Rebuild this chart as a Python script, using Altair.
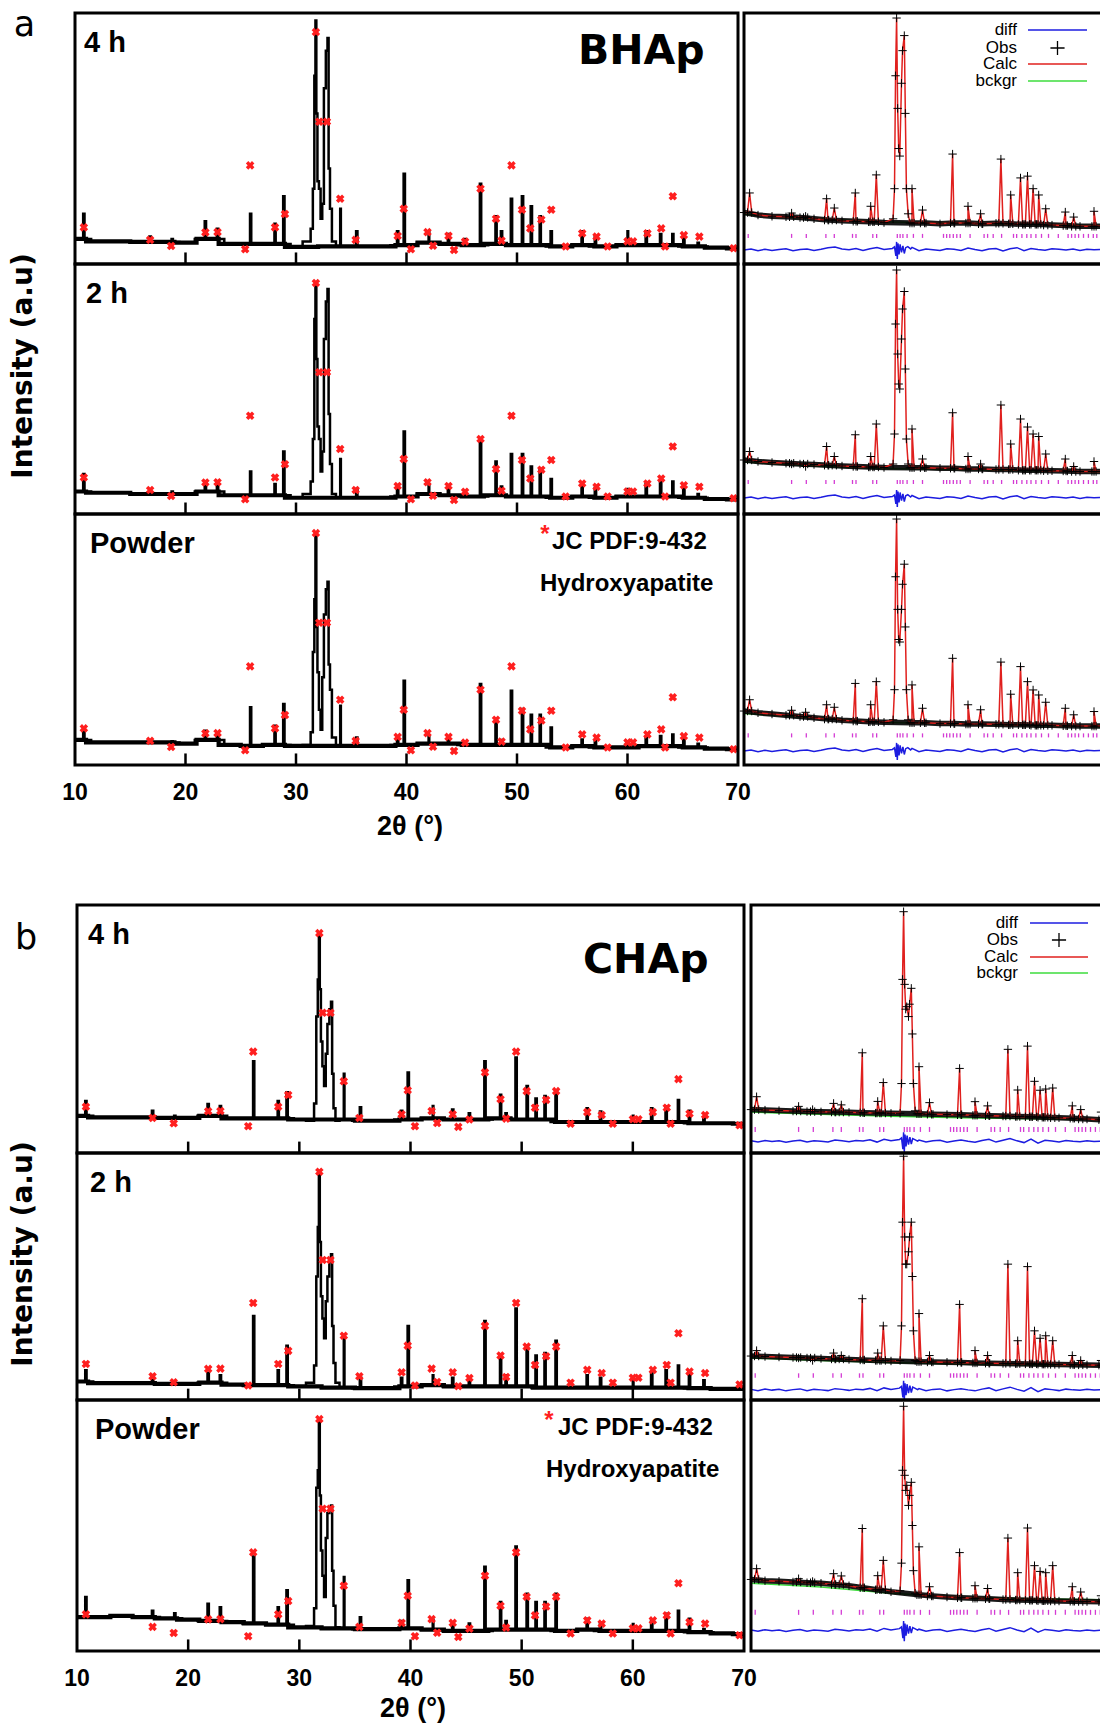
import altair as alt
import pandas as pd

# XRD patterns of BHAp (a) and CHAp (b): measured profiles on the left,
# Rietveld refinement plots on the right. Intensities are arbitrary units
# scaled 0-100 over the height of each sub-plot.

TICK_VALUES = [10, 20, 30, 40, 50, 60, 70]
INNER_TICKS = [20, 30, 40, 50, 60]
ROW_LABELS = ["4 h", "2 h", "Powder"]
LEGEND_NAMES = ["diff", "Obs", "Calc", "bckgr"]

# ---------------- measured patterns (left) ----------------
LEFT_BASE_X = list(range(10, 71, 2))
LEFT_PEAKS = [10.8, 16.8, 18.8, 21.8, 22.9, 25.9, 28.1, 28.9, 34.0, 35.5, 39.2,
              39.8, 42.0, 43.8, 45.3, 46.7, 48.1, 48.6, 49.5, 50.5, 51.3, 52.1,
              53.1, 55.9, 57.1, 60.0, 61.7, 63.0, 64.1, 65.1, 66.4]
LEFT_CL_X = [31.2, 31.45, 31.6, 31.72, 31.8, 31.88, 32.0, 32.15, 32.3, 32.45,
             32.6, 32.8, 32.9, 33.0, 33.15, 33.35]

A4_BASE = [10, 9, 9, 8.8, 8.8, 8.5, 10, 8, 8, 8, 6.8, 7, 7, 7, 7, 7.5, 8.5, 8,
           7.5, 8, 7.5, 7.5, 7, 7.5, 7, 7.5, 7.5, 7.5, 7, 6.5, 6.2]
A4_TIPS = [20, 11, 10, 17, 14, 20, 16, 27, 22, 13, 13, 36, 13, 12, 10, 32, 19, 13,
           26, 27, 23, 19, 13, 13, 11, 13, 13, 12, 12, 11, 8.5]
A4_CL = [9, 14, 30, 75, 97, 60, 33, 30, 18, 24, 70, 85, 90, 38, 22, 9]

A2_BASE = [9, 8.5, 8.5, 8, 8, 8, 9, 7.5, 7.5, 7.5, 6.5, 6.5, 6.5, 6.5, 6.5, 7, 8,
           7.5, 7, 7.5, 7, 7, 6.5, 7, 6.5, 7, 7, 7, 6.5, 6, 5.8]
A2_TIPS = [16, 9.5, 9, 13, 12, 17, 12, 25, 22, 10, 11, 33, 12, 10, 9, 30, 21, 11,
           24, 24, 19, 18, 14, 12, 10.5, 10, 12, 13, 13, 11, 8]
A2_CL = [8, 13, 30, 78, 92, 62, 35, 30, 17, 25, 70, 85, 90, 40, 20, 8]

AP_BASE = [10, 9, 9, 9, 9, 8.5, 10, 8, 7.6, 8, 7.6, 7.6, 7.6, 7.6, 7.6, 8, 8.5,
           8.5, 8, 8, 8, 8, 7, 7.5, 7, 7, 7.5, 7.5, 7, 6.5, 6.3]
AP_TIPS = [14.3, 10, 9.5, 13.6, 13, 23, 15.6, 24.3, 23.6, 11, 11, 33.6, 11.6, 10,
           9, 32.3, 18.3, 10, 29.6, 22.3, 20, 20, 14.9, 10.2, 9.6, 9, 11, 11.6,
           12.2, 11, 8.5]
AP_CL = [8, 13, 45, 66, 92, 55, 37, 22, 14, 35, 60, 70, 73, 40, 30, 11]

B4_BASE = [15, 14.4, 14.4, 14.4, 14.2, 14.2, 15, 14, 14, 14, 13.5, 13.5, 13.5, 13,
           13, 13.5, 14, 13.5, 13.5, 14, 13.5, 13.5, 12.5, 12.5, 12.5, 12.5, 12.5,
           12.5, 12, 12, 11.8]
B4_TIPS = [21, 17, 15, 19.8, 19, 37, 21, 24.5, 32, 18.4, 17, 32.5, 19, 17.5, 16,
           37, 23.5, 16, 38.5, 27, 22, 23, 24.7, 18, 16.7, 15, 18, 18.7, 21.4, 17, 14]
B4_CL = [13, 20, 55, 70, 88, 66, 45, 35, 27, 40, 52, 58, 61, 32, 18, 13]

B2_BASE = [7.5, 6.8, 6.8, 6.8, 6.5, 6.5, 7, 6.2, 6, 6, 5.5, 5, 5, 4.8, 4.8, 5.5,
           6, 5.5, 5.5, 5.5, 5.5, 5, 5, 5, 5, 5, 5, 5, 4.8, 4.5, 4.5]
B2_TIPS = [12, 8, 7, 11, 10, 34, 12, 22, 25, 9, 9, 30, 10, 9, 8, 32, 17, 10, 37, 22,
           18, 19, 24, 10, 9, 8, 11, 12, 14, 10, 8]
B2_CL = [7, 14, 50, 70, 92, 64, 42, 33, 25, 40, 50, 56, 59, 30, 15, 7]

BP_BASE = [13.5, 13.5, 14, 13.5, 13, 12.5, 12, 11.5, 11, 10.5, 9.4, 9, 9, 8.7,
           8.7, 9, 8.5, 8, 8, 8.5, 8.5, 8.5, 8, 8.5, 8, 8, 8, 8, 7.5, 7, 6.7]
BP_TIPS = [21.5, 16, 15, 18.8, 17.4, 37.6, 17.4, 24.2, 29.5, 13.4, 12, 28.2, 12.5,
           11.5, 11, 33.6, 19.5, 12, 41.6, 22.8, 19.5, 19.5, 22.8, 12.8, 11.4, 10.8,
           12, 14.8, 16, 12.8, 8.8]
BP_CL = [10, 17, 65, 72, 92, 62, 40, 30, 21.5, 45, 55, 57, 58, 32, 18, 9.5]

# JCPDS 9-432 hydroxyapatite reference lines (red markers)
REF_POS = [10.8, 16.8, 18.7, 21.8, 22.9, 25.4, 25.85, 28.1, 29.0, 31.8, 32.1, 32.8,
           34.0, 35.4, 39.2, 39.75, 40.4, 41.9, 42.4, 43.8, 44.3, 45.3, 46.7, 48.1,
           48.6, 49.5, 50.45, 51.2, 52.2, 53.1, 54.4, 55.9, 57.2, 58.2, 60.0, 60.5,
           61.8, 63.05, 63.4, 64.1, 65.1, 66.5, 69.6]
REF_REL = [14.6, 9.6, 7.2, 12.6, 12.7, 5.9, 39.3, 14.6, 19.9, 92.4, 56.7, 56.7, 26,
           9.6, 11.2, 22, 5.9, 12.7, 7.3, 11.2, 5.6, 8.9, 30, 18, 9.3, 39.3, 21.6,
           14.2, 17.7, 21.6, 7, 12.2, 10.9, 7, 9, 9, 12.2, 14.2, 7, 27, 11.5, 10.9, 6.3]

# ---------------- Rietveld plots (right) ----------------
RIGHT_BASE_X = list(range(10, 63, 2))
RIGHT_PEAKS = [10.8, 16.8, 18.8, 21.8, 22.9, 25.9, 28.1, 28.9, 34.0, 35.5, 39.8,
               42.0, 43.8, 46.7, 48.1, 49.5, 50.5, 51.3, 52.1, 53.1, 55.9, 57.1, 60.0]
RIGHT_CL_X = [31.3, 31.5, 31.65, 31.8, 31.95, 32.1, 32.25, 32.5, 32.65, 32.9,
              33.05, 33.2, 33.45]
BG_X = [10, 20, 30, 40, 50, 62]
HKL_POS = [10.6, 16.8, 18.9, 21.7, 22.9, 25.5, 26.0, 28.4, 28.95, 31.9, 32.3, 32.7,
           33.3, 34.2, 35.5, 38.5, 38.95, 39.4, 39.9, 40.4, 40.9, 42.3, 44.3, 44.8,
           45.6, 46.8, 48.5, 48.95, 49.7, 50.4, 51.0, 51.7, 52.5, 53.5, 54.9, 56.3,
           56.8, 57.3, 57.8, 58.5, 59.2, 59.9, 60.4]
DIFF_X = (list(range(10, 31))
          + [31.2, 31.5, 31.7, 31.8, 31.9, 32.0, 32.15, 32.3, 32.5, 32.7, 32.9, 33.1, 33.4, 33.8]
          + list(range(34, 62)))
DIFF_A = [0.0, 0.4, -0.3, 0.3, -0.2, 0.2, 0.5, -0.3, 0.2, 0.4, -0.2, 0.3, 0.9, 1.2,
          0.4, 0.1, 0.6, -0.2, 0.5, 1.0, 0.2,
          0.6, 1.2, -2.4, 3.2, -3.6, 2.6, -1.8, 2.2, -1.0, 1.6, -1.4, 0.9, 1.3, 0.4,
          1.0, -0.3, 0.4, 0.1, -0.2, 0.5, 0.3, -0.2, 0.8, 0.2, -0.3, 0.4, 0.6, -0.4,
          0.5, 0.9, -0.3, 0.6, 0.2, -0.1, 0.5, 0.3, 0.0, 0.4, -0.2, 0.3, 0.1, 0.2]
DIFF_B = [0.3, -0.2, 0.4, 0.0, 0.3, -0.3, 0.2, 0.5, -0.2, 0.3, 0.1, -0.2, 0.6, 0.3,
          -0.1, 0.4, 0.2, 0.7, -0.2, 0.9, 0.3,
          0.8, 1.5, -3.0, 3.8, -4.2, 2.8, -2.0, 2.4, -1.2, 1.8, -1.0, 1.2, 0.8, 0.2,
          0.6, -0.2, 0.3, 0.5, -0.3, 0.2, 0.6, 0.1, -0.3, 0.4, 0.9, -0.2, 0.5, 1.2,
          0.3, -0.4, 1.0, -0.6, 0.5, 0.2, -0.2, 0.4, 0.1, -0.1, 0.3, 0.0, 0.2, 0.1]

RA4_BASE = [20.5, 19.5, 19, 18.8, 18.5, 18, 17.5, 17.2, 17, 16.8, 16.5, 16.5, 16.3,
            16.3, 16, 16.3, 16.3, 16, 16.2, 16, 15.8, 15.8, 15.5, 15.3, 15, 15, 15]
RA4_TIPS = [28.3, 20.3, 19, 26, 22.3, 28.3, 23, 35.5, 30, 21.5, 43.8, 23, 20, 41.8,
            27.5, 34.3, 35, 30, 27.5, 22, 20.7, 18.7, 21]
RA4_CL = [18, 30, 75, 98, 62, 46, 43, 72, 85, 91, 60, 30, 20]
RA4_BG = [19.8, 18, 16.8, 16.3, 15.8, 15.2]

RA2_BASE = [21.6, 21, 20.6, 20.3, 20, 19.8, 19.5, 19.2, 19, 18.8, 18.6, 18.5, 18.5,
            18.5, 18.3, 18.3, 18, 18, 17.8, 17.8, 17.5, 17.5, 17.3, 17.2, 17, 17, 17]
RA2_TIPS = [25, 20, 19, 27, 23, 31.7, 23, 36, 34, 22, 40.5, 23, 20, 43.6, 28, 38,
            34.8, 32, 31, 24, 22, 19, 21]
RA2_CL = [20, 32, 76, 97.6, 64, 52, 50, 70, 82, 89, 58, 30, 20]
RA2_BG = [20.8, 19.2, 18.2, 17.8, 17.3, 16.8]

RAP_BASE = [21.5, 20.8, 20.3, 19.8, 19.3, 18.8, 18.3, 17.8, 17.5, 17.2, 17, 17, 16.8,
            16.8, 16.5, 16.5, 16.3, 16.3, 16.2, 16, 16, 15.8, 15.8, 15.6, 15.5, 15.5, 15.5]
RAP_TIPS = [26, 21.8, 21, 24, 23, 32.5, 24, 33.2, 31.9, 22.6, 42.5, 24, 22, 41, 28.2,
            39.2, 33.2, 29.9, 27.9, 25, 22.6, 20, 21.3]
RAP_CL = [18, 30, 75, 98, 62, 50, 49, 62, 72, 80, 55, 30, 18]
RAP_BG = [20.5, 18.8, 17, 16.3, 15.8, 15.2]

RB4_BASE = [17.5, 17.3, 17.1, 16.9, 16.7, 16.6, 16.5, 16.4, 16.2, 16.1, 16, 15.9,
            15.8, 15.6, 15.5, 15.4, 15.2, 15, 14.9, 14.7, 14.6, 14.4, 14.2, 14, 13.7,
            13.4, 13.3]
RB4_TIPS = [22.7, 18.8, 17.5, 20, 19.4, 40.4, 20.8, 28.4, 34.8, 20.3, 34.1, 20.7, 19,
            41.8, 25.4, 43.1, 28.9, 25.3, 25.8, 26.2, 19, 17.5, 16.5]
RB4_CL = [16, 28, 70, 97.3, 68, 58, 59, 55, 60, 66.4, 48, 28, 17]
RB4_BG = [16.5, 15.6, 14.8, 14.2, 13.8, 13.3]

RB2_BASE = [17.8, 17.6, 17.4, 17.2, 17, 16.8, 16.6, 16.4, 16.2, 16, 15.8, 15.7, 15.5,
            15.4, 15.3, 15.2, 15, 14.9, 14.8, 14.7, 14.6, 14.5, 14.4, 14.3, 14.2, 14.1, 14]
RB2_TIPS = [20, 17, 16, 19, 18, 41, 19, 30, 35, 18, 38.7, 20, 18, 55, 24, 54, 28, 25,
            26, 24, 18, 16, 16]
RB2_CL = [16, 30, 72, 98.7, 66, 55, 55, 60, 66, 72, 50, 28, 16]
RB2_BG = [17, 16, 15.2, 14.6, 14.2, 13.8]

RBP_BASE = [28.5, 28, 27.8, 27.5, 27.2, 27, 26.5, 26, 25.2, 24.4, 23.6, 23, 22.4,
            21.9, 21.5, 21.2, 21, 20.8, 20.5, 20.3, 20.2, 20, 19.9, 19.8, 19.7, 19.6, 19.5]
RBP_TIPS = [32.8, 28.8, 27.7, 30.8, 29.9, 48.8, 30, 36.1, 41.5, 25.6, 39.2, 26, 24.9,
            45, 31.2, 49, 34, 31.7, 31.2, 34, 25.6, 23.5, 22]
RBP_CL = [24, 35, 72, 97.5, 70, 64, 66, 58, 62, 67.2, 50, 32, 23]
RBP_BG = [27, 25.5, 23, 21.3, 20.8, 20.3]

# ---------------- layout (pixels) ----------------
A_LEFT_X = (75, 738)
B_LEFT_X = (77, 744)
A_RIGHT_X0 = 744
B_RIGHT_X0 = 751
DEG_PX = 7
A_ROWS = [(13, 264), (264, 514), (514, 765)]
B_ROWS = [(905, 1153), (1153, 1400), (1400, 1651)]

SANS = "Liberation Sans"
WIDE = "DejaVu Sans"
RED = "#ff1f1f"
ONE = pd.DataFrame({"k": [0]})


def xscale(lo, hi, p0, p1):
    return alt.Scale(domain=[lo, hi], range=[p0, p1], nice=False, zero=False)


def yscale(top, bottom):
    return alt.Scale(domain=[0, 100], range=[bottom, top], nice=False, zero=False)


def profile(base_x, base_y, peaks, tips, cl_x, cl_y, hw):
    """Polyline through the baseline points, each peak (foot, top, foot) and
    the 31-33 degree reflection cluster."""
    lo, hi = cl_x[0], cl_x[-1]
    pts = [(x, y) for x, y in zip(base_x, base_y) if not lo <= x <= hi]
    for p, t in zip(peaks, tips):
        j = min(range(len(base_x)), key=lambda k: abs(base_x[k] - p))
        b = base_y[j]
        pts += [(p - hw, b), (p, t), (p + hw, b)]
    pts += list(zip(cl_x, cl_y))
    pts.sort(key=lambda q: q[0])
    df = pd.DataFrame(pts, columns=["t", "i"])
    df["k"] = range(len(df))
    return df


def left_panel(xpx, row, base, tips, cl_y, labels=False, ref_lift=0.0, ref_gain=1.0):
    top, bot = row
    xs = xscale(10, 70, *xpx)
    ys = yscale(top, bot)

    def X(f):
        return alt.X(f, type="quantitative", scale=xs, axis=None)

    def Y(f):
        return alt.Y(f, type="quantitative", scale=ys, axis=None)

    prof = profile(LEFT_BASE_X, base, LEFT_PEAKS, tips, LEFT_CL_X, cl_y, 0.12)
    lo, hi = LEFT_CL_X[0], LEFT_CL_X[-1]
    band = pd.DataFrame([(x, y) for x, y in zip(LEFT_BASE_X, base) if not lo <= x <= hi],
                        columns=["t", "i"])
    noise_band = alt.Chart(band).mark_line(interpolate="step", color="black",
                                           strokeWidth=4.2).encode(x=X("t"), y=Y("i"))
    line = alt.Chart(prof).mark_line(interpolate="step", color="black",
                                     strokeWidth=2.5).encode(
        x=X("t"), y=Y("i"), order=alt.Order("k:Q"))
    ref = alt.Chart(pd.DataFrame({"t": REF_POS,
                                  "i": [ref_lift + ref_gain * v for v in REF_REL]})).mark_point(
        shape="cross", angle=45, filled=True, size=75, color=RED, opacity=1).encode(
        x=X("t"), y=Y("i"))
    ticks = alt.Chart(pd.DataFrame({"t": INNER_TICKS, "i0": 0, "i1": 4.6})).mark_rule(
        color="black", strokeWidth=2.5).encode(x=X("t"), y=Y("i0"), y2="i1")
    frame = alt.Chart(pd.DataFrame({"t0": [10], "t1": [70], "i0": [0], "i1": [100]})).mark_rect(
        fillOpacity=0, stroke="black", strokeWidth=3).encode(
        x=X("t0"), x2="t1", y=Y("i0"), y2="i1")
    layers = [noise_band, line, ref, ticks, frame]
    if labels:
        lab = pd.DataFrame({"t": TICK_VALUES, "s": [str(v) for v in TICK_VALUES]})
        layers.append(alt.Chart(lab).mark_text(
            font=SANS, fontSize=23, fontWeight="bold", baseline="alphabetic",
            color="black").encode(x=X("t"), y=alt.value(bot + 35), text="s:N"))
    return alt.layer(*layers)


def right_panel(x0, row, base, tips, cl_y, bg, diff_y, diff_level, tick_lo, tick_hi):
    top, bot = row
    xs = xscale(10, 62, x0, x0 + 52 * DEG_PX)
    ys = yscale(top, bot)

    def X(f):
        return alt.X(f, type="quantitative", scale=xs, axis=None)

    def Y(f):
        return alt.Y(f, type="quantitative", scale=ys, axis=None)

    prof = profile(RIGHT_BASE_X, base, RIGHT_PEAKS, tips, RIGHT_CL_X, cl_y, 0.3)
    lo, hi = RIGHT_CL_X[0], RIGHT_CL_X[-1]
    band = pd.DataFrame([(x, y) for x, y in zip(RIGHT_BASE_X, base) if not lo <= x <= hi],
                        columns=["t", "i"])
    bgd = pd.DataFrame({"t": BG_X, "i": bg})
    dif = pd.DataFrame({"t": DIFF_X, "i": [diff_level + v for v in diff_y]})
    hkl = pd.DataFrame({"t": HKL_POS, "i0": tick_lo, "i1": tick_hi})

    frame = alt.Chart(pd.DataFrame({"t0": [10], "t1": [62], "i0": [0], "i1": [100]})).mark_rect(
        fillOpacity=0, stroke="black", strokeWidth=3).encode(
        x=X("t0"), x2="t1", y=Y("i0"), y2="i1")
    bck = alt.Chart(bgd).mark_line(color="#3ddc3d", strokeWidth=1.4).encode(
        x=X("t"), y=Y("i"))
    obs_band = alt.Chart(band).mark_line(color="black", strokeWidth=5.5, opacity=0.9).encode(
        x=X("t"), y=Y("i"))
    calc = alt.Chart(prof).mark_line(color="#e0201e", strokeWidth=1.5).encode(
        x=X("t"), y=Y("i"), order=alt.Order("k:Q"))
    obs = alt.Chart(prof).mark_point(
        shape="M-1,0L1,0M0,-1L0,1", size=70, filled=False, color="black",
        strokeWidth=1, opacity=1).encode(x=X("t"), y=Y("i"))
    refl = alt.Chart(hkl).mark_rule(color="#d43bd4", strokeWidth=1.3).encode(
        x=X("t"), y=Y("i0"), y2="i1")
    diff = alt.Chart(dif).mark_line(color="#1c1ce0", strokeWidth=1.5).encode(
        x=X("t"), y=Y("i"))
    return alt.layer(bck, obs_band, calc, obs, refl, diff, frame)


def note(text, x, y, size, font=SANS, weight="bold", color="black",
         align="left", baseline="alphabetic", angle=0):
    kw = dict(text=text, font=font, fontSize=size, fontWeight=weight,
              color=color, align=align, baseline=baseline)
    if angle:
        kw["angle"] = angle
    return alt.Chart(ONE).mark_text(**kw).encode(x=alt.value(x), y=alt.value(y))


def legend(x_text, x_line0, x_line1, ys):
    parts = []
    colors = ["#1c1ce0", None, "#e0201e", "#3ddc3d"]
    for name, y, col in zip(LEGEND_NAMES, ys, colors):
        parts.append(note(name, x_text, y, 17, weight="normal", align="right",
                          baseline="middle"))
        if col:
            parts.append(alt.Chart(ONE).mark_rule(color=col, strokeWidth=1.5).encode(
                x=alt.value(x_line0), x2=alt.value(x_line1), y=alt.value(y)))
        else:
            parts.append(alt.Chart(ONE).mark_point(
                shape="M-1,0L1,0M0,-1L0,1", size=200, filled=False, color="black",
                strokeWidth=1.3, opacity=1).encode(
                x=alt.value((x_line0 + x_line1) / 2), y=alt.value(y)))
    return parts


layers = []

# ---- block a: BHAp ----
a_left = [(A4_BASE, A4_TIPS, A4_CL), (A2_BASE, A2_TIPS, A2_CL), (AP_BASE, AP_TIPS, AP_CL)]
for k, (row, (b, t, c)) in enumerate(zip(A_ROWS, a_left)):
    layers.append(left_panel(A_LEFT_X, row, b, t, c, labels=(k == 2)))
a_right = [(RA4_BASE, RA4_TIPS, RA4_CL, RA4_BG, 5.6, 10.4, 12.0),
           (RA2_BASE, RA2_TIPS, RA2_CL, RA2_BG, 6.4, 12.0, 13.6),
           (RAP_BASE, RAP_TIPS, RAP_CL, RAP_BG, 5.6, 11.0, 12.6)]
for row, (b, t, c, g, dl, t0, t1) in zip(A_ROWS, a_right):
    layers.append(right_panel(A_RIGHT_X0, row, b, t, c, g, DIFF_A, dl, t0, t1))

# ---- block b: CHAp (reference stick pattern lifted in the 4 h plot) ----
b_left = [(B4_BASE, B4_TIPS, B4_CL, 5.5, 0.9), (B2_BASE, B2_TIPS, B2_CL, 0.0, 1.0),
          (BP_BASE, BP_TIPS, BP_CL, 0.0, 1.0)]
for k, (row, (b, t, c, lift, gain)) in enumerate(zip(B_ROWS, b_left)):
    layers.append(left_panel(B_LEFT_X, row, b, t, c, labels=(k == 2),
                             ref_lift=lift, ref_gain=gain))
b_right = [(RB4_BASE, RB4_TIPS, RB4_CL, RB4_BG, 4.6, 8.5, 10.5),
           (RB2_BASE, RB2_TIPS, RB2_CL, RB2_BG, 4.0, 9.0, 10.8),
           (RBP_BASE, RBP_TIPS, RBP_CL, RBP_BG, 8.1, 14.4, 16.4)]
for row, (b, t, c, g, dl, t0, t1) in zip(B_ROWS, b_right):
    layers.append(right_panel(B_RIGHT_X0, row, b, t, c, g, DIFF_B, dl, t0, t1))

# ---- text ----
texts = [
    note("a", 24.5, 36, 35, font=WIDE, weight="normal", align="center"),
    note("b", 26, 949, 35, font=WIDE, weight="normal", align="center"),
    note("Intensity (a.u)", 24, 366, 28, font=WIDE, align="center",
         baseline="middle", angle=270),
    note("Intensity (a.u)", 24, 1254, 28, font=WIDE, align="center",
         baseline="middle", angle=270),
    note("BHAp", 578, 64, 41, font=WIDE),
    note("CHAp", 583, 973, 41, font=WIDE),
    note("2θ (°)", 410, 835, 27, align="center"),
    note("2θ (°)", 413, 1717, 27, align="center"),
]
for x, (top, _), lab in zip([84, 86, 90], A_ROWS, ROW_LABELS):
    texts.append(note(lab, x, top + 39, 29))
for x, (top, _), lab in zip([88, 90, 95], B_ROWS, ROW_LABELS):
    texts.append(note(lab, x, top + 39, 29))
for xs, xj, xh, top in [(545, 552, 540, A_ROWS[2][0]), (549, 558, 546, B_ROWS[2][0])]:
    texts.append(note("*", xs, top + 28, 24, color=RED, align="center"))
    texts.append(note("JC PDF:9-432", xj, top + 35, 24))
    texts.append(note("Hydroxyapatite", xh, top + 77, 24))

layers += texts
layers += legend(1017, 1028, 1087, [30, 48, 64, 81])
layers += legend(1018, 1030, 1088, [923, 940, 957, 973])

chart = alt.layer(*layers).resolve_scale(
    x="independent", y="independent"
).properties(
    width=1100, height=1727, padding=0,
    autosize=alt.AutoSizeParams(type="none"), background="white"
).configure_view(stroke=None)

chart.save("out.html", embed_options={"renderer": "svg", "actions": False})
